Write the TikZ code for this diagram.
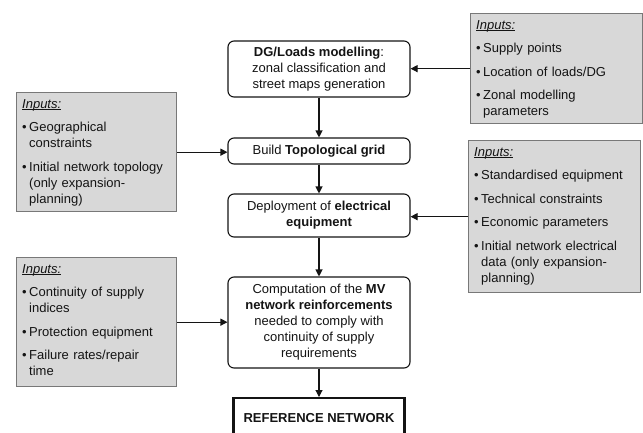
\documentclass[tikz,border=0pt]{standalone}
\usepackage{fontspec}
\setmainfont{Liberation Sans}
\usetikzlibrary{arrows.meta}
\definecolor{infill}{RGB}{216,216,216}
\definecolor{indraw}{RGB}{120,120,120}
\definecolor{ink}{RGB}{20,20,20}
\setlength\parindent{0pt}
\newcommand{\bitem}[1]{\par\vspace{7.5pt}\noindent\makebox[7pt][l]{\textbullet}#1}
\newcommand{\cont}{\newline\hspace*{7pt}}
\newcommand{\inp}{\leavevmode\setbox0\hbox{\textit{Inputs:}}\rlap{\rule[-1.6pt]{\wd0}{0.6pt}}\box0}
\begin{document}
\begin{tikzpicture}[x=1pt,y=-1pt,
  font=\fontsize{13}{16}\selectfont, text=ink,
  stepbox/.style={draw=ink, line width=1.1pt, rounded corners=6pt, fill=white,
    minimum width=182pt, align=center, inner sep=0pt},
  inbox/.style={draw=indraw, line width=1.3pt, fill=infill, inner sep=0pt, anchor=north west},
  intext/.style={anchor=north west, align=left, inner sep=0pt, text width=#1},
  arr/.style={draw=ink, line width=1.1pt, -{Triangle[length=7pt,width=7pt]}}]
\fill[white] (0,0) rectangle (643,432);
\useasboundingbox (0,0) rectangle (643,432);

% centre column
\node[stepbox, minimum height=56pt] (dg) at (319,69)
  {\textbf{DG/Loads modelling}:\\zonal classification and\\street maps generation};
\node[stepbox, minimum height=26pt] (build) at (319,151)
  {Build \textbf{Topological grid}};
\node[stepbox, minimum height=43pt] (deploy) at (319,215.5)
  {Deployment of \textbf{electrical}\\\textbf{equipment}};
\node[stepbox, minimum height=91pt] (comp) at (319,322.5)
  {Computation of the \textbf{MV}\\\textbf{network reinforcements}\\needed to comply with\\continuity of supply\\requirements};
\node[draw=ink, line width=2.4pt, minimum width=171pt, minimum height=40pt,
  anchor=north, inner sep=0pt, font=\fontsize{13}{16}\selectfont\bfseries] (ref) at (319,397)
  {REFERENCE NETWORK};

% input boxes
\node[inbox, minimum width=172pt, minimum height=110pt] (in1) at (470,13) {};
\node[intext=160pt] (t1) at ([shift={(6,7)}]in1.north west)
  {\inp\bitem{Supply points}\bitem{Location of loads/DG}\bitem{Zonal modelling\cont parameters}};

\node[inbox, minimum width=160pt, minimum height=119pt] (in2) at (16,92) {};
\node[intext=148pt] (t2) at ([shift={(6,7)}]in2.north west)
  {\inp\bitem{Geographical\cont constraints}\bitem{Initial network topology\cont (only expansion-\cont planning)}};

\node[inbox, minimum width=172pt, minimum height=152pt] (in3) at (468,140) {};
\node[intext=160pt] (t3) at ([shift={(6,7)}]in3.north west)
  {\inp\bitem{Standardised equipment}\bitem{Technical constraints}\bitem{Economic parameters}\bitem{Initial network electrical\cont data (only expansion-\cont planning)}};

\node[inbox, minimum width=160pt, minimum height=129pt] (in4) at (16,257) {};
\node[intext=148pt] (t4) at ([shift={(6,7)}]in4.north west)
  {\inp\bitem{Continuity of supply\cont indices}\bitem{Protection equipment}\bitem{Failure rates/repair\cont time}};

% connectors
\draw[arr] (dg) -- (build);
\draw[arr] (build) -- (deploy);
\draw[arr] (deploy) -- (comp);
\draw[arr] (comp) -- (ref);
\draw[arr] (in1.west) -- (in1.west -| dg.east);
\draw[arr] (in2.east) -- (in2.east -| build.west);
\draw[arr] (in3.west) -- (in3.west -| deploy.east);
\draw[arr] (in4.east) -- (in4.east -| comp.west);
\end{tikzpicture}
\end{document}
